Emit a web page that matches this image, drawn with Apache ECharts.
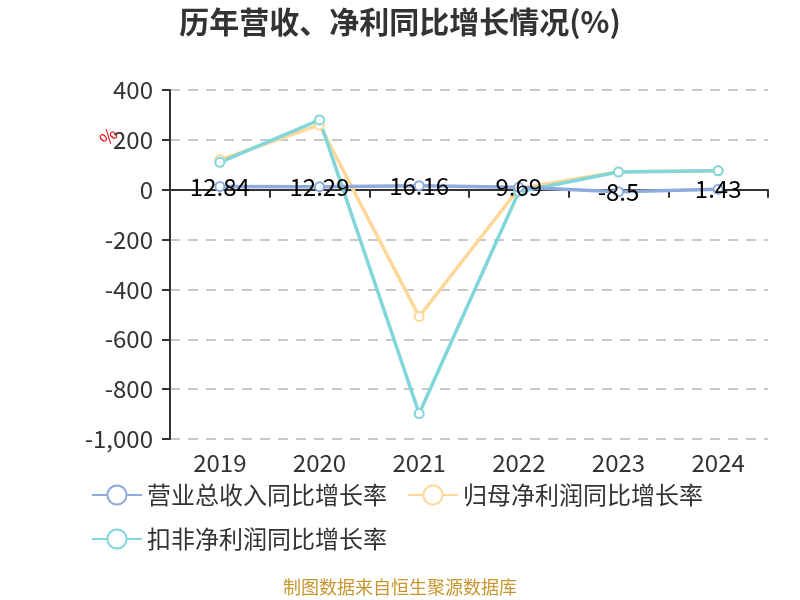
<!DOCTYPE html>
<html><head><meta charset="utf-8">
<script src="https://cdn.jsdelivr.net/npm/echarts@6/dist/echarts.min.js"></script>
<style>html,body{margin:0;padding:0;background:#fff}#c{width:800px;height:600px}</style>
</head><body><div id="c"></div>
<script>
var categories = ['2019','2020','2021','2022','2023','2024'];
var revenueGrowth = [12.84, 12.29, 16.16, 9.69, -8.5, 1.43];
var netProfitGrowth = [120, 260, -509, 5, 72, 76];
var deductedProfitGrowth = [110, 280, -898, -8, 71, 76];
var seriesNames = ['营业总收入同比增长率','归母净利润同比增长率','扣非净利润同比增长率'];
var colors = ['#8fabdd','#ffd899','#80d6d8'];

var chart = echarts.init(document.getElementById('c'));
var font = '"Noto Sans CJK SC", "Noto Sans", sans-serif';
function mk(name, data, color, label) {
  return {
    name: name, type: 'line', data: data, xAxisIndex: 0,
    symbol: 'emptyCircle', symbolSize: 9,
    lineStyle: {width: 3.5, color: color},
    itemStyle: {color: color, borderWidth: 2},
    label: label ? {show: true, position: 'inside', color: '#000', fontSize: 24, fontFamily: font} : {show: false},
    z: label ? 3 : 2
  };
}
chart.setOption({
  textStyle: {fontFamily: font},
  color: colors,
  title: {text: '历年营收、净利同比增长情况(%)', left: 'center', top: 2,
    textStyle: {fontSize: 30, fontWeight: 'bold', color: '#333', fontFamily: font}},
  grid: {left: 170, right: 32, top: 90, bottom: 161},
  legend: {
    left: 86, top: 478, width: 680, itemWidth: 50, itemHeight: 24, itemGap: 20,
    textStyle: {fontSize: 24, color: '#333', fontFamily: font},
    data: seriesNames
  },
  xAxis: [{
    type: 'category', data: categories, boundaryGap: true,
    axisLine: {onZero: true, lineStyle: {color: '#333', width: 2}},
    axisTick: {show: true, length: 8, lineStyle: {color: '#333', width: 2}},
    axisLabel: {show: false}
  }, {
    type: 'category', data: categories, position: 'bottom', boundaryGap: true,
    axisLine: {show: false}, axisTick: {show: false},
    axisLabel: {show: true, fontSize: 24, color: '#333', margin: 12, fontFamily: font}
  }],
  yAxis: {
    type: 'value', min: -1000, max: 400, interval: 200,
    axisLine: {show: true, lineStyle: {color: '#333', width: 2}},
    axisTick: {show: true, length: 8, lineStyle: {color: '#333', width: 2}},
    axisLabel: {fontSize: 24, color: '#333', margin: 17, fontFamily: font},
    splitLine: {show: true, lineStyle: {type: [10, 8], color: '#c8c8c8', width: 2}}
  },
  graphic: [{
    type: 'text', left: 96, top: 124, rotation: Math.PI / 4,
    style: {text: '%', fill: '#e00', fontSize: 18, fontFamily: font}
  }, {
    type: 'text', left: 'center', top: 578,
    style: {text: '制图数据来自恒生聚源数据库', fill: '#c8962e', fontSize: 18, fontFamily: font}
  }],
  series: [
    mk(seriesNames[1], netProfitGrowth, colors[1], false),
    mk(seriesNames[2], deductedProfitGrowth, colors[2], false),
    mk(seriesNames[0], revenueGrowth, colors[0], true)
  ]
});
</script></body></html>
